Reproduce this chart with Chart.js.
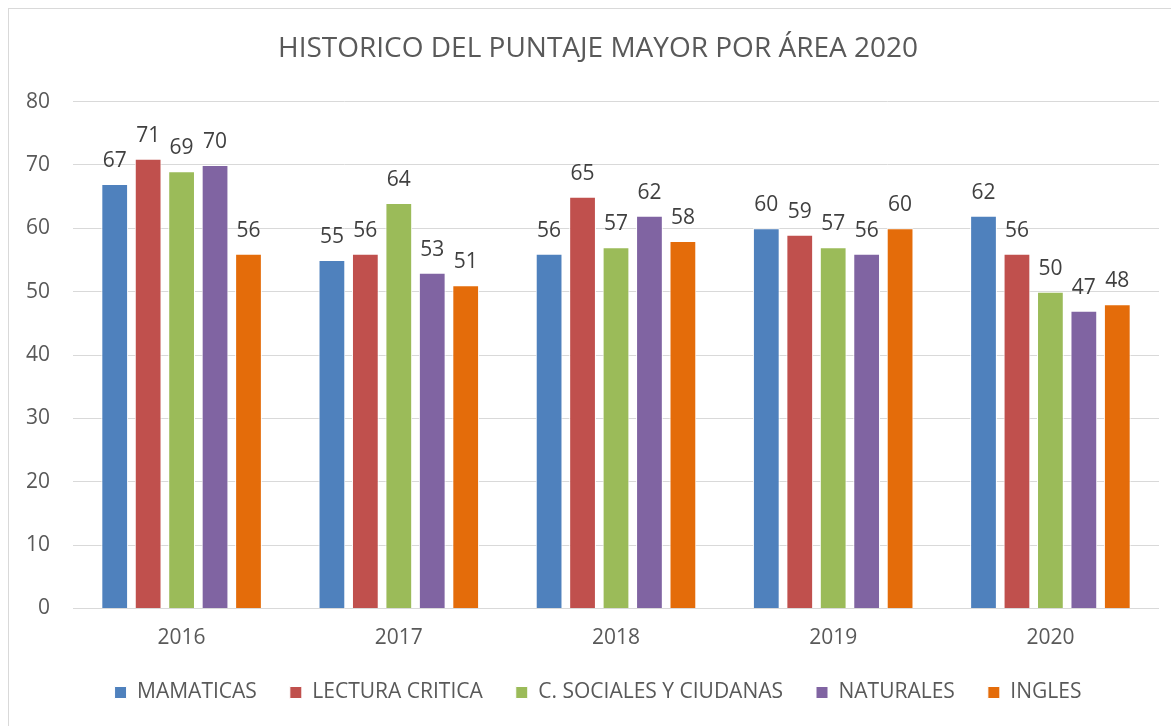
<!DOCTYPE html>
<html lang="es">
<head>
<meta charset="UTF-8">
<title>Historico del puntaje mayor por área 2020</title>
<script src="https://cdn.jsdelivr.net/npm/chart.js"></script>
<style>
    body { margin: 0; background: #fff; overflow: hidden; }
    #frame { position: absolute; left: 8px; top: 8px; width: 1200px; height: 740px; border: 1px solid #d9d9d9; }
    #wrap { position: absolute; left: 0; top: 0; width: 1171px; height: 726px; }
</style>
</head>
<body>
<div id="frame"></div>
<div id="wrap"><canvas id="myChart"></canvas></div>
<script>
    // data
    const years = ['2016', '2017', '2018', '2019', '2020'];
    const matematicas = [67, 55, 56, 60, 62];
    const lectura = [71, 56, 65, 59, 56];
    const sociales = [69, 64, 57, 57, 50];
    const naturales = [70, 53, 62, 56, 47];
    const ingles = [56, 51, 58, 60, 48];
    const yTicks = [0, 10, 20, 30, 40, 50, 60, 70, 80];

    const font = "'Open Sans', 'Noto Sans', sans-serif";

    // draws the number above each bar
    const barLabels = {
        id: 'barLabels',
        afterLayout(chart) {
            // y axis is kept narrow so title/legend centre like the original;
            // widen its clip box so the tick labels are not cut off
            chart.scales.y.left = 0;
        },
        afterDatasetsDraw(chart) {
            const ctx = chart.ctx;
            ctx.save();
            ctx.font = '21px ' + font;
            ctx.fillStyle = '#404040';
            ctx.textAlign = 'center';
            ctx.textBaseline = 'alphabetic';
            chart.data.datasets.forEach((ds, i) => {
                chart.getDatasetMeta(i).data.forEach((bar, j) => {
                    ctx.fillText(ds.data[j], bar.x, bar.y - 17);
                });
            });
            ctx.restore();
        }
    };

    function series(label, data, color) {
        return { label: label, data: data, backgroundColor: color, borderColor: '#ffffff', borderWidth: 1 };
    }

    new Chart(document.getElementById('myChart'), {
        type: 'bar',
        data: {
            labels: years,
            datasets: [
                series('MAMATICAS', matematicas, '#4f81bd'),
                series('LECTURA CRITICA', lectura, '#c0504d'),
                series('C. SOCIALES Y CIUDANAS', sociales, '#9bbb59'),
                series('NATURALES', naturales, '#8064a2'),
                series('INGLES', ingles, '#e46c0a')
            ]
        },
        options: {
            responsive: true,
            maintainAspectRatio: false,
            animation: false,
            datasets: { bar: { categoryPercentage: 0.77, barPercentage: 0.8 } },
            layout: { padding: { left: 37, right: 12, top: 0, bottom: 25 } },
            plugins: {
                title: {
                    display: true,
                    text: 'HISTORICO DEL PUNTAJE MAYOR POR ÁREA 2020',
                    color: '#595959',
                    font: { family: font, size: 28, weight: 'normal' },
                    padding: { top: 32, bottom: 36 }
                },
                legend: {
                    position: 'bottom',
                    maxHeight: 52,
                    labels: {
                        color: '#595959',
                        font: { family: font, size: 21 },
                        boxWidth: 12,
                        boxHeight: 12,
                        padding: 33
                    }
                },
                tooltip: { enabled: false }
            },
            scales: {
                x: {
                    afterFit(scale) { scale.height = 40.5; },
                    grid: { display: false, drawTicks: false },
                    border: { display: false },
                    ticks: { color: '#595959', font: { family: font, size: 21 }, padding: 17 }
                },
                y: {
                    min: 0,
                    max: 80,
                    afterBuildTicks(axis) { axis.ticks = yTicks.map(v => ({ value: v })); },
                    afterFit(scale) { scale.width = 36; },
                    grid: { color: '#d9d9d9', drawTicks: false },
                    border: { display: false },
                    ticks: { color: '#595959', font: { family: font, size: 21 }, padding: 23 }
                }
            }
        },
        plugins: [barLabels]
    });
</script>
</body>
</html>
